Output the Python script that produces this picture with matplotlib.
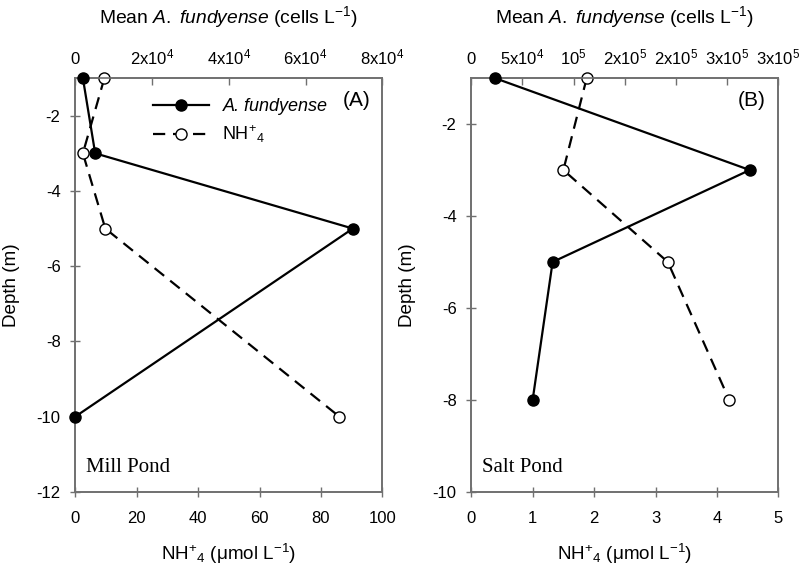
import matplotlib
matplotlib.use('Agg')
import matplotlib.pyplot as plt
from matplotlib.lines import Line2D

plt.rcParams['font.family'] = 'Liberation Sans'
plt.rcParams['mathtext.fontset'] = 'custom'
plt.rcParams['mathtext.rm'] = 'Liberation Sans'
plt.rcParams['mathtext.it'] = 'Liberation Sans:italic'
plt.rcParams['axes.unicode_minus'] = False

# Mill Pond (A)
depth_a = [-1, -3, -5, -10]
fund_a = [2000, 5200, 72300, 0]
nh4_a = [9.5, 2.5, 9.8, 86]

# Salt Pond (B)
depth_b = [-1, -3, -5, -8]
fund_b = [23000, 272000, 79500, 60000]
nh4_b = [1.88, 1.50, 3.20, 4.20]

top_ticks_a = [0, 2e4, 4e4, 6e4, 8e4]
top_labels_a = ['0', r'2x10$^{4}$', r'4x10$^{4}$', r'6x10$^{4}$', r'8x10$^{4}$']
top_ticks_b = [0, 5e4, 1e5, 1.5e5, 2e5, 2.5e5, 3e5]
top_labels_b = ['0', r'5x10$^{4}$', r'10$^{5}$', r'2x10$^{5}$', r'2x10$^{5}$',
                r'3x10$^{5}$', r'3x10$^{5}$']

spine_col = '#707070'
tick_fs = 12
lab_fs = 13.6
nh4_label = r'NH$^{+}$$_{4}$'

fig = plt.figure(figsize=(8, 5.74), dpi=100)


def make_panel(rect, depth, fund, nh4, xmax, ymin, yticks, xticks, topmax,
               top_ticks, top_labels, tag, site):
    ax = fig.add_axes(rect)
    ax.set_xlim(0, xmax)
    ax.set_ylim(ymin, -1)
    ax.set_yticks(yticks)
    ax.set_xticks(xticks)
    ax.plot(nh4, depth, color='black', lw=1.6, ls=(0, (5.5, 3.5)), marker='o',
            ms=8, mfc='white', mec='black', mew=1.0, clip_on=False, zorder=3)
    ax.set_xlabel(nh4_label + r' ($\mathregular{\mu}$mol L$^{-1}$)', fontsize=lab_fs, labelpad=12)
    ax.set_ylabel('Depth (m)', fontsize=lab_fs, labelpad=12)
    ax.tick_params(axis='both', direction='inout', length=7, width=1, color=spine_col,
                   labelsize=tick_fs, pad=7)
    ax.tick_params(axis='x', pad=10)
    for s in ax.spines.values():
        s.set_color(spine_col)
        s.set_linewidth(1.2)
    ax.text(0.035, 0.035, site, transform=ax.transAxes, fontsize=15,
            family='Liberation Serif', ha='left', va='bottom')

    ax2 = ax.twiny()
    ax2.set_xlim(0, topmax)
    ax2.set_xticks(top_ticks)
    ax2.set_xticklabels(top_labels)
    ax2.plot(fund, depth, color='black', lw=1.6, marker='o', ms=8, mfc='black',
             mec='black', clip_on=False, zorder=3)
    ax2.tick_params(axis='x', direction='in', length=5, width=1, color=spine_col,
                    labelsize=tick_fs, pad=8)
    for s in ax2.spines.values():
        s.set_color(spine_col)
        s.set_linewidth(1.2)
    ax2.set_xlabel(r'Mean $\mathit{A.\ fundyense}$ (cells L$^{-1}$)', fontsize=13.9,
                   labelpad=17)
    ax2.text(0.96, 0.945, tag, transform=ax.transAxes, fontsize=15,
             ha='right', va='center')
    return ax, ax2


ax_a, ax_a2 = make_panel([0.094, 0.143, 0.384, 0.721], depth_a, fund_a, nh4_a, 100, -12,
                         [-12, -10, -8, -6, -4, -2], [0, 20, 40, 60, 80, 100], 8e4,
                         top_ticks_a, top_labels_a, '(A)', 'Mill Pond')
ax_b, ax_b2 = make_panel([0.589, 0.143, 0.384, 0.721], depth_b, fund_b, nh4_b, 5, -10,
                         [-10, -8, -6, -4, -2], [0, 1, 2, 3, 4, 5], 3e5,
                         top_ticks_b, top_labels_b, '(B)', 'Salt Pond')

handles = [
    Line2D([], [], color='black', lw=1.6, marker='o', ms=8, mfc='black'),
    Line2D([], [], color='black', lw=1.6, ls=(0, (5.5, 3.5)), marker='o', ms=8,
           mfc='white', mec='black'),
]
leg = ax_a2.legend(handles, ['A. fundyense', nh4_label], loc='upper left',
                   bbox_to_anchor=(0.2, 0.99), frameon=False, fontsize=13,
                   handlelength=3.1, handletextpad=0.75, labelspacing=0.45)
leg.get_texts()[0].set_fontstyle('italic')

fig.savefig('out.png', dpi=100)
